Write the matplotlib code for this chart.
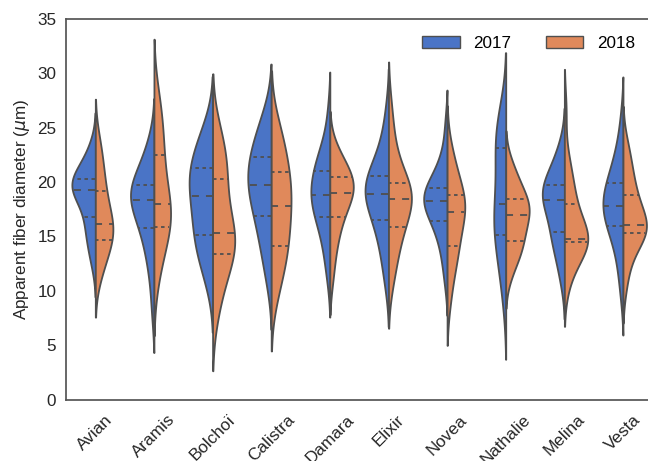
import numpy as np
import matplotlib
matplotlib.use("Agg")
import matplotlib.pyplot as plt
from matplotlib.patches import Patch

plt.rcParams['font.family'] = ['Liberation Sans', 'DejaVu Sans']

varieties = ["Avian", "Aramis", "Bolchoï", "Calistra", "Damara",
             "Elixir", "Novea", "Nathalie", "Melina", "Vesta"]
years = ["2017", "2018"]

# Apparent fiber diameters (µm) per variety, one list per year
d2017 = {
    "Avian":    [12.4, 13.6, 14.4, 15.1, 15.7, 16.3, 16.8, 17.6, 18.2, 18.6, 18.9, 19.1, 19.3,
                 19.5, 19.7, 19.9, 20.0, 20.2, 20.3, 20.6, 21.0, 21.4, 21.9, 22.6, 23.4],
    "Aramis":   [8.2, 11.0, 12.5, 13.6, 14.5, 15.2, 15.78, 16.4, 16.9, 17.4, 17.8, 18.1, 18.35,
                 18.6, 18.9, 19.1, 19.4, 19.6, 19.77, 20.2, 20.7, 21.3, 22.0, 22.8, 23.8],
    "Bolchoï":  [10.5, 11.8, 12.8, 13.6, 14.2, 14.7, 15.17, 15.8, 16.4, 17.1, 17.7, 18.2, 18.72,
                 19.2, 19.7, 20.2, 20.6, 21.0, 21.3, 21.8, 22.4, 23.0, 23.7, 24.5, 25.4],
    "Calistra": [10.8, 12.4, 13.6, 14.6, 15.4, 16.1, 16.86, 17.5, 18.1, 18.6, 19.0, 19.4, 19.7,
                 20.2, 20.7, 21.2, 21.6, 22.0, 22.3, 22.8, 23.4, 24.1, 24.8, 25.6, 26.5],
    "Damara":   [11.3, 12.8, 14.0, 15.0, 15.7, 16.3, 16.8, 17.3, 17.7, 18.0, 18.3, 18.6, 18.8,
                 19.2, 19.6, 20.0, 20.4, 20.7, 21.0, 21.5, 22.0, 22.5, 23.1, 23.9, 26.4],
    "Elixir":   [10.6, 12.3, 13.5, 14.5, 15.3, 16.0, 16.55, 17.1, 17.6, 18.0, 18.4, 18.7, 18.94,
                 19.2, 19.5, 19.8, 20.1, 20.4, 20.6, 21.1, 21.7, 22.4, 23.2, 24.4, 26.5],
    "Novea":    [11.0, 12.7, 13.9, 14.8, 15.5, 16.0, 16.4, 16.9, 17.3, 17.7, 17.9, 18.1, 18.27,
                 18.5, 18.7, 18.9, 19.1, 19.3, 19.5, 19.9, 20.4, 21.0, 21.7, 22.7, 25.2],
    "Nathalie": [9.0, 10.8, 12.0, 13.1, 13.9, 14.6, 15.1, 15.6, 16.2, 16.7, 17.2, 17.6, 18.0,
                 18.9, 19.9, 20.9, 21.8, 22.5, 23.1, 23.6, 24.2, 24.8, 25.4, 26.0, 26.6],
    "Melina":   [10.8, 12.2, 13.2, 14.0, 14.6, 15.0, 15.4, 16.0, 16.6, 17.2, 17.7, 18.0, 18.35,
                 18.6, 18.9, 19.1, 19.3, 19.5, 19.7, 20.1, 20.6, 21.1, 21.7, 22.4, 23.4],
    "Vesta":    [9.8, 11.7, 13.0, 14.1, 14.9, 15.5, 15.94, 16.4, 16.8, 17.1, 17.4, 17.6, 17.84,
                 18.2, 18.6, 19.0, 19.3, 19.6, 19.95, 20.5, 21.1, 21.8, 22.6, 23.6, 25.8],
}
d2018 = {
    "Avian":    [11.2, 12.0, 12.7, 13.3, 13.8, 14.2, 14.65, 15.0, 15.3, 15.6, 15.8, 16.0, 16.1,
                 16.5, 17.0, 17.6, 18.2, 18.7, 19.15, 19.8, 20.5, 21.3, 22.1, 23.0, 24.0],
    "Aramis":   [10.8, 12.3, 13.4, 14.3, 14.9, 15.4, 15.85, 16.3, 16.7, 17.1, 17.4, 17.7, 17.96,
                 18.5, 19.2, 20.0, 20.9, 21.7, 22.46, 23.3, 24.2, 25.1, 26.0, 27.0, 28.2],
    "Bolchoï":  [7.6, 9.3, 10.5, 11.5, 12.2, 12.9, 13.4, 13.8, 14.2, 14.6, 14.9, 15.1, 15.36,
                 15.9, 16.7, 17.6, 18.5, 19.4, 20.3, 20.9, 21.6, 22.3, 23.1, 24.0, 25.0],
    "Calistra": [9.2, 10.6, 11.6, 12.5, 13.2, 13.7, 14.16, 14.8, 15.5, 16.2, 16.8, 17.3, 17.77,
                 18.3, 18.9, 19.4, 19.9, 20.4, 20.9, 21.5, 22.2, 23.0, 23.8, 24.6, 25.5],
    "Damara":   [11.0, 12.8, 14.0, 15.0, 15.7, 16.3, 16.8, 17.4, 17.9, 18.3, 18.6, 18.8, 19.0,
                 19.2, 19.5, 19.8, 20.0, 20.3, 20.5, 20.8, 21.1, 21.5, 21.9, 22.5, 23.3],
    "Elixir":   [10.6, 12.0, 13.1, 14.0, 14.8, 15.4, 15.85, 16.5, 17.0, 17.5, 17.9, 18.2, 18.4,
                 18.7, 18.9, 19.2, 19.4, 19.7, 19.9, 20.5, 21.3, 22.2, 23.3, 24.8, 27.0],
    "Novea":    [8.8, 10.5, 11.7, 12.6, 13.2, 13.7, 14.13, 14.8, 15.4, 16.0, 16.5, 16.9, 17.25,
                 17.5, 17.8, 18.1, 18.4, 18.6, 18.85, 19.4, 20.0, 20.6, 21.3, 22.1, 23.2],
    "Nathalie": [11.3, 12.3, 13.0, 13.5, 13.9, 14.2, 14.56, 15.0, 15.5, 15.9, 16.3, 16.6, 16.95,
                 17.2, 17.5, 17.8, 18.0, 18.2, 18.4, 18.8, 19.3, 19.8, 20.4, 21.0, 21.8],
    "Melina":   [10.5, 11.7, 12.6, 13.3, 13.8, 14.2, 14.5, 14.55, 14.6, 14.65, 14.7, 14.75, 14.8,
                 15.2, 15.7, 16.3, 16.9, 17.5, 18.0, 18.7, 19.4, 20.2, 21.1, 22.3, 26.6],
    "Vesta":    [10.4, 12.0, 13.1, 13.9, 14.5, 15.0, 15.36, 15.5, 15.6, 15.75, 15.85, 15.95, 16.03,
                 16.5, 17.0, 17.5, 18.0, 18.4, 18.8, 19.4, 20.1, 20.8, 21.6, 22.5, 23.6],
}

colors = ["#4a74c6", "#e0895b"]
gray = "#4f4f4f"
half_width = 0.4
lw = 1.3
fs = 12.3


def kde(values, gridsize=100, cut=2):
    x = np.asarray(values, dtype=float)
    bw = x.std(ddof=1) * len(x) ** (-1 / 5)
    support = np.linspace(x.min() - cut * bw, x.max() + cut * bw, gridsize)
    z = (support[:, None] - x[None, :]) / bw
    dens = np.exp(-0.5 * z ** 2).sum(axis=1) / (len(x) * bw * np.sqrt(2 * np.pi))
    return support, dens


fig = plt.figure(figsize=(6.48, 4.61), dpi=100)
ax = fig.add_axes([66 / 648, 1 - 399.5 / 461, (652.3 - 66) / 648, (399.5 - 19) / 461])

for i, name in enumerate(varieties):
    halves = [d2017[name], d2018[name]]
    curves = [kde(h) for h in halves]
    scale = half_width / max(d.max() for _, d in curves)
    for side, (vals, (sup, dens), col) in enumerate(zip(halves, curves, colors)):
        w = dens * scale
        sign = -1 if side == 0 else 1
        ax.fill_betweenx(sup, i, i + sign * w, facecolor=col, edgecolor=gray,
                         linewidth=lw, zorder=2)
        q1, q2, q3 = np.percentile(vals, [25, 50, 75])
        for q, dash in ((q1, [lw * 1.5] * 2), (q2, [lw * 3] * 2), (q3, [lw * 1.5] * 2)):
            reach = w[np.argmin(np.abs(sup - q))] * 0.99
            ax.plot([i, i + sign * reach], [q, q], color=gray, linewidth=lw,
                    dashes=dash, zorder=3)

ax.set_xlim(-0.5, len(varieties) - 0.5)
ax.set_ylim(0, 35)
ax.set_yticks(np.arange(0, 36, 5))
ax.set_xticks(range(len(varieties)))
ax.set_xticklabels(varieties, rotation=45, ha="center")
ax.tick_params(axis="both", length=0, pad=7, labelsize=fs, colors="#262626")
ax.tick_params(axis="x", pad=9)
ax.set_ylabel(r"Apparent fiber diameter ($\mu$m)", fontsize=fs, color="#262626")
for s in ax.spines.values():
    s.set_color("#555555")
    s.set_linewidth(1.25)

handles = [Patch(facecolor=c, edgecolor=gray, label=y) for c, y in zip(colors, years)]
ax.legend(handles=handles, loc="upper right", ncol=2, frameon=False, fontsize=fs,
          handlelength=2.2, bbox_to_anchor=(0.997, 0.995))

fig.savefig("out.png", dpi=100)
